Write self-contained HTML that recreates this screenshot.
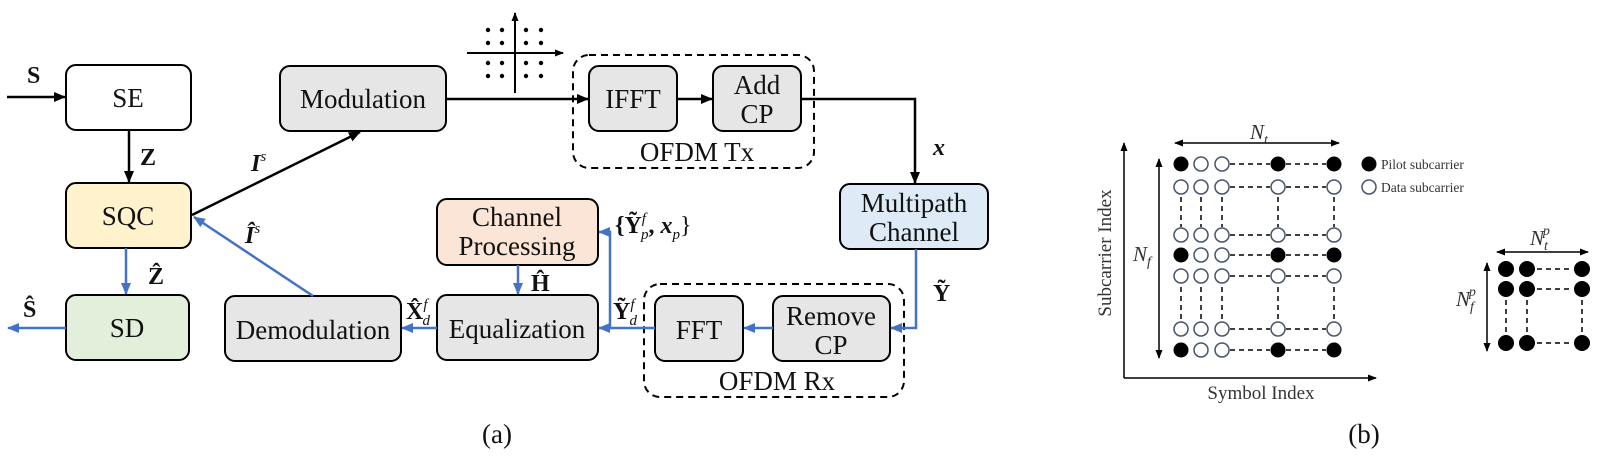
<!DOCTYPE html>
<html><head><meta charset="utf-8"><style>
html,body{margin:0;padding:0;background:#fff;}
svg{display:block;}
text{font-family:"Liberation Serif",serif;}
.bx{font-size:27px;text-anchor:middle;fill:#111;}
.m{font-size:24px;font-weight:bold;font-style:italic;fill:#111;}
.mb{font-size:24px;font-weight:bold;fill:#111;}
</style></head><body>
<svg width="1607" height="463" viewBox="0 0 1607 463" xmlns="http://www.w3.org/2000/svg">
<defs>
<marker id="ak" markerWidth="12" markerHeight="12" refX="11" refY="6" orient="auto" markerUnits="userSpaceOnUse"><path d="M0,1 L12,6 L0,11 z" fill="#000"/></marker>
<marker id="ab" markerWidth="12" markerHeight="12" refX="11" refY="6" orient="auto" markerUnits="userSpaceOnUse"><path d="M0,1 L12,6 L0,11 z" fill="#4472c4"/></marker>
<marker id="as" markerWidth="9" markerHeight="9" refX="8" refY="4.5" orient="auto" markerUnits="userSpaceOnUse"><path d="M0,1 L9,4.5 L0,8 z" fill="#000"/></marker>
</defs>
<g stroke="#000" stroke-width="2">
<rect x="66" y="65" width="125" height="65" rx="10" fill="#fff"/>
<rect x="66" y="183" width="125" height="65" rx="10" fill="#fff2cc"/>
<rect x="66" y="295" width="123" height="65" rx="10" fill="#e2efda"/>
<rect x="280" y="66" width="166" height="65" rx="10" fill="#e6e6e6"/>
<rect x="589" y="66" width="88" height="65" rx="10" fill="#e6e6e6"/>
<rect x="713" y="66" width="88" height="65" rx="10" fill="#e6e6e6"/>
<rect x="840" y="184" width="148" height="65" rx="10" fill="#deebf7"/>
<rect x="437" y="199" width="161" height="66" rx="10" fill="#fbe5d6"/>
<rect x="437" y="295" width="161" height="65" rx="10" fill="#e6e6e6"/>
<rect x="225" y="296" width="176" height="65" rx="10" fill="#e6e6e6"/>
<rect x="655" y="296" width="88" height="65" rx="10" fill="#e6e6e6"/>
<rect x="773" y="296" width="117" height="65" rx="10" fill="#e6e6e6"/>
</g>
<g fill="none" stroke="#000" stroke-width="2" stroke-dasharray="7,5">
<rect x="573" y="55" width="241" height="113" rx="16"/>
<rect x="644" y="284" width="260" height="113" rx="16"/>
</g>
<g class="bx">
<text x="128" y="107">SE</text>
<text x="128" y="225">SQC</text>
<text x="127" y="337">SD</text>
<text x="363" y="108">Modulation</text>
<text x="633" y="108">IFFT</text>
<text x="757" y="94">Add</text>
<text x="757" y="123">CP</text>
<text x="914" y="212">Multipath</text>
<text x="914" y="241">Channel</text>
<text x="517" y="226">Channel</text>
<text x="517" y="255">Processing</text>
<text x="517" y="338">Equalization</text>
<text x="313" y="339">Demodulation</text>
<text x="699" y="339">FFT</text>
<text x="831" y="325">Remove</text>
<text x="831" y="354">CP</text>
<text x="697" y="161">OFDM Tx</text>
<text x="777" y="390">OFDM Rx</text>
<text x="497" y="443">(a)</text>
<text x="1364" y="443">(b)</text>
</g>
<g stroke="#000" stroke-width="2.5" fill="none">
<line x1="7" y1="97" x2="65" y2="97" marker-end="url(#ak)"/>
<line x1="129" y1="130" x2="129" y2="182" marker-end="url(#ak)"/>
<line x1="192" y1="215" x2="360" y2="132" marker-end="url(#ak)"/>
<line x1="446" y1="99" x2="588" y2="99" marker-end="url(#ak)"/>
<line x1="677" y1="99" x2="712" y2="99" marker-end="url(#ak)"/>
<polyline points="801,99 915,99 915,183" marker-end="url(#ak)"/>
</g>
<g stroke="#4472c4" stroke-width="2.5" fill="none">
<line x1="126" y1="248" x2="126" y2="294" marker-end="url(#ab)"/>
<line x1="66" y1="328" x2="8" y2="328" marker-end="url(#ab)"/>
<line x1="313" y1="296" x2="194" y2="217" marker-end="url(#ab)"/>
<line x1="437" y1="328" x2="402" y2="328" marker-end="url(#ab)"/>
<line x1="518" y1="265" x2="518" y2="294" marker-end="url(#ab)"/>
<polyline points="916,249 916,328 891,328" marker-end="url(#ab)"/>
<line x1="773" y1="328" x2="744" y2="328" marker-end="url(#ab)"/>
<line x1="655" y1="328" x2="599" y2="328" marker-end="url(#ab)"/>
<polyline points="610,328 610,232 599,232" marker-end="url(#ab)"/>
</g>
<g stroke="#000" stroke-width="2">
<line x1="515" y1="93" x2="515" y2="13" marker-end="url(#as)"/>
<line x1="467" y1="53" x2="563" y2="53" marker-end="url(#as)"/>
</g>
<g fill="#000">
<circle cx="488" cy="30" r="2.2"/><circle cx="502" cy="30" r="2.2"/><circle cx="526" cy="30" r="2.2"/><circle cx="541" cy="30" r="2.2"/>
<circle cx="488" cy="43" r="2.2"/><circle cx="502" cy="43" r="2.2"/><circle cx="526" cy="43" r="2.2"/><circle cx="541" cy="43" r="2.2"/>
<circle cx="488" cy="63" r="2.2"/><circle cx="502" cy="63" r="2.2"/><circle cx="526" cy="63" r="2.2"/><circle cx="541" cy="63" r="2.2"/>
<circle cx="488" cy="76" r="2.2"/><circle cx="502" cy="76" r="2.2"/><circle cx="526" cy="76" r="2.2"/><circle cx="541" cy="76" r="2.2"/>
</g>
<text class="mb" x="27" y="83">S</text>
<text class="mb" x="140" y="165">Z</text>
<text class="m" x="251" y="171">I<tspan font-size="15" font-weight="normal" dy="-10">s</tspan></text>
<text class="m" x="245" y="243">Î<tspan font-size="15" font-weight="normal" dy="-10">s</tspan></text>
<text class="mb" x="148" y="284">Ẑ</text>
<text class="mb" x="23" y="317">Ŝ</text>
<text class="mb" x="531" y="291">Ĥ</text>
<text class="mb" x="406" y="319">X̂<tspan font-size="15" font-style="italic" font-weight="normal" dy="-10">f</tspan><tspan font-size="15" font-style="italic" font-weight="normal" dx="-5" dy="16">d</tspan></text>
<text class="mb" x="615" y="233">{Ỹ<tspan font-size="15" font-style="italic" font-weight="normal" dy="-10">f</tspan><tspan font-size="15" font-style="italic" font-weight="normal" dx="-5" dy="16">p</tspan><tspan dy="-6">, </tspan><tspan font-style="italic">x</tspan><tspan font-size="15" font-style="italic" font-weight="normal" dy="6">p</tspan><tspan font-weight="normal" dy="-6">}</tspan></text>
<text class="mb" x="613" y="319">Ỹ<tspan font-size="15" font-style="italic" font-weight="normal" dy="-10">f</tspan><tspan font-size="15" font-style="italic" font-weight="normal" dx="-5" dy="16">d</tspan></text>
<text class="m" x="933" y="155">x</text>
<text class="mb" x="933" y="301">Ỹ</text>
<g stroke="#000" stroke-width="1.5" fill="none">
<line x1="1124" y1="378" x2="1124" y2="143" marker-end="url(#as)"/>
<line x1="1124" y1="378" x2="1376" y2="378" marker-end="url(#as)"/>
<line x1="1260" y1="143" x2="1339" y2="143" marker-end="url(#as)"/>
<line x1="1260" y1="143" x2="1175" y2="143" marker-end="url(#as)"/>
<line x1="1159" y1="260" x2="1159" y2="159" marker-end="url(#as)"/>
<line x1="1159" y1="260" x2="1159" y2="358" marker-end="url(#as)"/>
<line x1="1540" y1="252" x2="1588" y2="252" marker-end="url(#as)"/>
<line x1="1540" y1="252" x2="1497" y2="252" marker-end="url(#as)"/>
<line x1="1487" y1="305" x2="1487" y2="263" marker-end="url(#as)"/>
<line x1="1487" y1="305" x2="1487" y2="351" marker-end="url(#as)"/>
</g>
<g stroke="#000" stroke-width="1.5" stroke-dasharray="5,4">
<line x1="1230" y1="164" x2="1270" y2="164"/><line x1="1286" y1="164" x2="1326" y2="164"/>
<line x1="1230" y1="187" x2="1270" y2="187"/><line x1="1286" y1="187" x2="1326" y2="187"/>
<line x1="1230" y1="235" x2="1270" y2="235"/><line x1="1286" y1="235" x2="1326" y2="235"/>
<line x1="1230" y1="255" x2="1270" y2="255"/><line x1="1286" y1="255" x2="1326" y2="255"/>
<line x1="1230" y1="276" x2="1270" y2="276"/><line x1="1286" y1="276" x2="1326" y2="276"/>
<line x1="1230" y1="329" x2="1270" y2="329"/><line x1="1286" y1="329" x2="1326" y2="329"/>
<line x1="1230" y1="350" x2="1270" y2="350"/><line x1="1286" y1="350" x2="1326" y2="350"/>
<line x1="1181" y1="197" x2="1181" y2="227"/><line x1="1201" y1="197" x2="1201" y2="227"/><line x1="1222" y1="197" x2="1222" y2="227"/><line x1="1278" y1="197" x2="1278" y2="227"/><line x1="1334" y1="197" x2="1334" y2="227"/>
<line x1="1181" y1="287" x2="1181" y2="320"/><line x1="1201" y1="287" x2="1201" y2="320"/><line x1="1222" y1="287" x2="1222" y2="320"/><line x1="1278" y1="287" x2="1278" y2="320"/><line x1="1334" y1="287" x2="1334" y2="320"/>
<line x1="1537" y1="269" x2="1572" y2="269"/><line x1="1537" y1="289" x2="1572" y2="289"/><line x1="1537" y1="343" x2="1572" y2="343"/>
<line x1="1506" y1="300" x2="1506" y2="333"/><line x1="1527" y1="300" x2="1527" y2="333"/><line x1="1582" y1="300" x2="1582" y2="333"/>
</g>
<g stroke="#44546a" stroke-width="1.5" fill="#fff">
<circle cx="1201" cy="164" r="7"/><circle cx="1222" cy="164" r="7"/>
<circle cx="1181" cy="187" r="7"/><circle cx="1201" cy="187" r="7"/><circle cx="1222" cy="187" r="7"/><circle cx="1278" cy="187" r="7"/><circle cx="1334" cy="187" r="7"/>
<circle cx="1181" cy="235" r="7"/><circle cx="1201" cy="235" r="7"/><circle cx="1222" cy="235" r="7"/><circle cx="1278" cy="235" r="7"/><circle cx="1334" cy="235" r="7"/>
<circle cx="1201" cy="255" r="7"/><circle cx="1222" cy="255" r="7"/>
<circle cx="1181" cy="276" r="7"/><circle cx="1201" cy="276" r="7"/><circle cx="1222" cy="276" r="7"/><circle cx="1278" cy="276" r="7"/><circle cx="1334" cy="276" r="7"/>
<circle cx="1181" cy="329" r="7"/><circle cx="1201" cy="329" r="7"/><circle cx="1222" cy="329" r="7"/><circle cx="1278" cy="329" r="7"/><circle cx="1334" cy="329" r="7"/>
<circle cx="1201" cy="350" r="7"/><circle cx="1222" cy="350" r="7"/>
<circle cx="1369" cy="187" r="7"/>
</g>
<g fill="#000">
<circle cx="1181" cy="164" r="7.5"/><circle cx="1278" cy="164" r="7.5"/><circle cx="1334" cy="164" r="7.5"/>
<circle cx="1181" cy="255" r="7.5"/><circle cx="1278" cy="255" r="7.5"/><circle cx="1334" cy="255" r="7.5"/>
<circle cx="1181" cy="350" r="7.5"/><circle cx="1278" cy="350" r="7.5"/><circle cx="1334" cy="350" r="7.5"/>
<circle cx="1369" cy="164" r="7.5"/>
<circle cx="1506" cy="269" r="8"/><circle cx="1527" cy="269" r="8"/><circle cx="1582" cy="269" r="8"/>
<circle cx="1506" cy="289" r="8"/><circle cx="1527" cy="289" r="8"/><circle cx="1582" cy="289" r="8"/>
<circle cx="1506" cy="343" r="8"/><circle cx="1527" cy="343" r="8"/><circle cx="1582" cy="343" r="8"/>
</g>
<g fill="#333">
<text x="1381" y="169" font-size="13.5">Pilot subcarrier</text>
<text x="1381" y="192" font-size="13.5">Data subcarrier</text>
<text x="1261" y="399" font-size="19" text-anchor="middle">Symbol Index</text>
<text x="0" y="0" font-size="19" text-anchor="middle" transform="translate(1111,253) rotate(-90)">Subcarrier Index</text>
<text x="1250" y="139" font-size="21" font-style="italic">N<tspan font-size="14" dy="5">t</tspan></text>
<text x="1133" y="261" font-size="21" font-style="italic">N<tspan font-size="14" dy="5">f</tspan></text>
<text x="1530" y="245" font-size="21" font-style="italic">N<tspan font-size="14" dy="5">t</tspan><tspan font-size="14" dx="-5" dy="-15">p</tspan></text>
<text x="1456" y="306" font-size="21" font-style="italic">N<tspan font-size="14" dy="5">f</tspan><tspan font-size="14" dx="-5" dy="-15">p</tspan></text>
</g>
</svg>
</body></html>
